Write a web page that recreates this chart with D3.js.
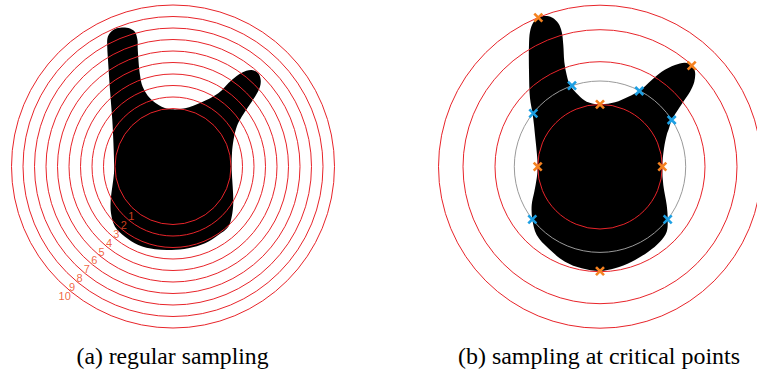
<!DOCTYPE html>
<html>
<head>
<meta charset="utf-8">
<script src="https://cdn.jsdelivr.net/npm/d3@7"></script>
<style>
  html, body { margin: 0; padding: 0; background: #fff; }
  svg { display: block; }
</style>
</head>
<body>
<svg id="chart" width="757" height="374"></svg>
<script>
// ---------- data ----------
// panel (a): regular sampling – ring radii and labels
const ringRadiiA = [58, 69.5, 81, 92.5, 104, 115.5, 127, 138.5, 150, 161.5];
const ringLabelsA = ["1","2","3","4","5","6","7","8","9","10"];
// panel (b): sampling at critical points
const ringRadiiB = [62.3, 105, 137, 161.5];
const grayRadiiB = [85.7];
// critical points (orange) and intermediate points (blue), relative to centre
const criticalPts = [[-61.7,-149],[91.7,-101],[0,-62.4],[-62.3,0],[62.3,0],[0,104.5]];
const midPts = [[-28,-81],[39.3,-75.7],[-66.7,-53.4],[71.7,-46.7],[-67.7,52.6],[67.7,52.6]];
// shape outlines relative to ring centre
const shapeA = [[-51,-139],[-43,-138],[-38,-134.5],[-35.5,-126.5],[-35.3,-118.5],[-33,-91.5],[-30.3,-79.8],
  [-23,-68.2],[-11.3,-59.8],[-1.3,-57.2],[12,-58.2],[28.7,-64.2],[45.3,-73.2],[58.7,-86.5],[68.7,-93.8],
  [78.7,-96.5],[85.3,-93.2],[87.7,-86.5],[87,-79.8],[82,-69.8],[75.3,-59.8],[68.7,-49.8],[63.7,-39.8],
  [60.5,-26.5],[59,-13.5],[58.7,3.5],[59.7,20.2],[60.3,36.5],[58.7,50.2],[55.3,60.2],[45.3,68.5],[32,76.8],
  [15.3,81.8],[-1.3,83.5],[-18,82.8],[-34.7,78.5],[-48,70.2],[-58,60.2],[-62,46.8],[-62.3,33.5],[-60.7,20.2],
  [-59,6.8],[-59,-6.5],[-59.7,-26.5],[-60.7,-46.5],[-63,-76.5],[-65,-106.5],[-65.7,-118.5],[-65.5,-128.5],
  [-63,-133.5],[-58,-137.5]];
const shapeB = [[-70,-135],[-67,-143.7],[-61.7,-149],[-55,-150.7],[-48,-149.2],[-41.7,-143.4],[-38.3,-135],
  [-36.7,-121.7],[-35.7,-105],[-33.3,-91.7],[-30,-81.7],[-21.7,-71.7],[-13.3,-65],[0,-62.4],[15,-64.4],
  [28.3,-70],[39.3,-75.7],[51.7,-86.7],[61.7,-95],[75,-101.7],[85,-104],[91.7,-101.7],[95,-95],[94.3,-85],
  [90,-75],[83.3,-65],[76.7,-55],[71.7,-46.7],[69,-38.4],[66.7,-31.7],[64,-18.4],[62.3,0],[63.3,18.3],
  [66.7,38.3],[67.7,52.6],[66.7,65],[60,75],[48.3,85],[31.7,95],[15,101.6],[0,104.3],[-18.3,101.6],
  [-35,95],[-51.7,81.6],[-63.3,68.3],[-67.7,52.6],[-68.3,38.3],[-65.7,25],[-63.3,11.6],[-62.3,0],
  [-63.3,-15],[-65,-31.7],[-66,-41.7],[-67.5,-53.7],[-70,-68.4],[-71,-95],[-71,-121.7]];
const captions = ["(a) regular sampling", "(b) sampling at critical points"];

// ---------- layout ----------
const svg = d3.select("#chart");
const labelAngle = 130 * Math.PI / 180;

function panel(cx, cy) {
  const x = d3.scaleLinear().domain([-200, 200]).range([cx - 200, cx + 200]);
  const y = d3.scaleLinear().domain([-200, 200]).range([cy - 200, cy + 200]);
  const r = d3.scaleLinear().domain([0, 200]).range([0, 200]);
  return {x, y, r, g: svg.append("g")};
}

function drawShape(p, pts) {
  const line = d3.line().x(d => p.x(d[0])).y(d => p.y(d[1])).curve(d3.curveCatmullRomClosed.alpha(0.5));
  p.g.append("path").attr("d", line(pts)).attr("fill", "#000");
}

function drawRings(p, radii, color) {
  p.g.selectAll(null).data(radii).enter().append("circle")
    .attr("cx", p.x(0)).attr("cy", p.y(0)).attr("r", d => p.r(d))
    .attr("fill", "none").attr("stroke", color).attr("stroke-width", 1);
}

// panel a
const pa = panel(173, 166.5);
drawShape(pa, shapeA);
drawRings(pa, ringRadiiA, "#e8242a");
pa.g.selectAll(null).data(ringRadiiA).enter().append("text")
  .attr("x", d => pa.x((d + 7) * Math.cos(labelAngle)))
  .attr("y", d => pa.y((d + 7) * Math.sin(labelAngle)))
  .attr("text-anchor", "middle").attr("dominant-baseline", "central")
  .style("font-family", "'Liberation Sans', Arial, sans-serif")
  .attr("font-size", 11)
  .attr("fill", "rgb(238,75,35)").attr("fill-opacity", 0.85)
  .text((d, i) => ringLabelsA[i]);

// panel b
const pb = panel(600, 166.7);
drawShape(pb, shapeB);
drawRings(pb, ringRadiiB, "#e8242a");
drawRings(pb, grayRadiiB, "#9a9a9a");
function crosses(p, pts, color) {
  const h = 4;
  p.g.selectAll(null).data(pts).enter().append("path")
    .attr("d", d => {
      const X = p.x(d[0]), Y = p.y(d[1]);
      return `M${X-h},${Y-h}L${X+h},${Y+h}M${X-h},${Y+h}L${X+h},${Y-h}`;
    })
    .attr("stroke", color).attr("stroke-width", 2.6).attr("fill", "none");
}
crosses(pb, midPts, "#1c9fe3");
crosses(pb, criticalPts, "#f58220");

// captions
const capX = [172.5, 599];
const capW = [192, 282];
svg.selectAll(".cap").data(captions).enter().append("text")
  .attr("class", "cap")
  .attr("x", (d, i) => capX[i]).attr("y", 364)
  .attr("text-anchor", "middle")
  .style("font-family", "'Liberation Serif', 'Times New Roman', serif")
  .attr("font-size", 22.5)
  .attr("textLength", (d, i) => capW[i]).attr("lengthAdjust", "spacingAndGlyphs")
  .attr("fill", "#000")
  .text(d => d);
</script>
</body>
</html>
